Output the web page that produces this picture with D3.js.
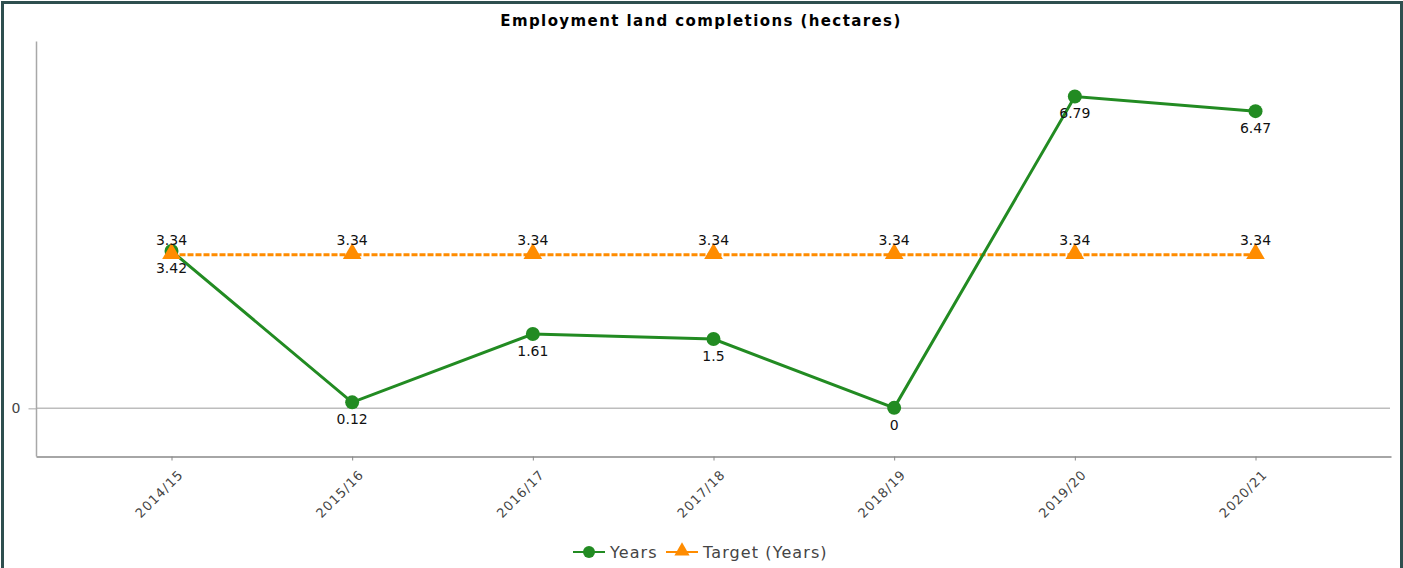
<!DOCTYPE html>
<html>
<head>
<meta charset="utf-8">
<script src="https://cdn.jsdelivr.net/npm/d3@7"></script>
<style>
  body { margin: 0; background: #fff; }
  svg { display: block; }
</style>
</head>
<body>
<svg id="chart" width="1403" height="568"></svg>
<script>
// data
var years = ['2014/15', '2015/16', '2016/17', '2017/18', '2018/19', '2019/20', '2020/21'];
var completions = [3.42, 0.12, 1.61, 1.5, 0, 6.79, 6.47];
var target = [3.34, 3.34, 3.34, 3.34, 3.34, 3.34, 3.34];
var yTicks = [0];

var width = 1403;
var height = 568;

var plotLeft = 36;
var plotRight = 1391;
var plotTop = 41;
var plotBottom = 456;

var green = '#228b22';
var orange = '#ff8c00';
var font = 'DejaVu Sans, Verdana, sans-serif';

var svg = d3.select('#chart');

// outer frame
svg.append('rect')
    .attr('x', 2.5)
    .attr('y', 2.5)
    .attr('width', width - 4)
    .attr('height', height)
    .attr('fill', 'none')
    .attr('stroke', '#2f4f4f')
    .attr('stroke-width', 3);

var x = d3.scalePoint()
    .domain(years)
    .range([plotLeft, plotRight])
    .padding(0.75);

var y = d3.scaleLinear()
    .domain([-1.05, 8.0])
    .range([plotBottom, plotTop]);

// title
svg.append('text')
    .attr('x', 701)
    .attr('y', 26)
    .attr('text-anchor', 'middle')
    .attr('font-family', font)
    .attr('font-weight', 'bold')
    .attr('font-size', 15)
    .attr('letter-spacing', 1.4)
    .attr('fill', '#000')
    .text('Employment land completions (hectares)');

// zero grid line
svg.selectAll('.grid')
    .data(yTicks)
    .enter().append('line')
    .attr('x1', plotLeft)
    .attr('x2', plotRight - 1)
    .attr('y1', function(d) { return y(d) + 0.5; })
    .attr('y2', function(d) { return y(d) + 0.5; })
    .attr('stroke', '#bdbdbd')
    .attr('stroke-width', 1.5);

// y axis
var yAxis = d3.axisLeft(y).tickValues(yTicks).tickSize(8).tickPadding(8);
var gy = svg.append('g')
    .attr('transform', 'translate(' + (plotLeft + 0.5) + ',0.5)')
    .call(yAxis);
gy.attr('font-size', 14);
gy.select('.domain')
    .attr('d', 'M0,' + plotTop + 'V' + plotBottom)
    .attr('stroke', '#a8a8a8')
    .attr('stroke-width', 1.5);
gy.selectAll('.tick line').attr('stroke', '#a8a8a8');
gy.selectAll('.tick text')
    .attr('font-family', font)
    .attr('font-size', 14)
    .attr('fill', '#444');

// x axis
var xAxis = d3.axisBottom(x).tickSize(4).tickSizeOuter(0);
var gx = svg.append('g')
    .attr('transform', 'translate(0,' + (plotBottom + 0.5) + ')')
    .call(xAxis);
gx.select('.domain')
    .attr('stroke', '#888')
    .attr('stroke-width', 1.5);
gx.selectAll('.tick line').attr('stroke', '#888');
gx.selectAll('.tick text')
    .attr('font-family', font)
    .attr('font-size', 13)
    .attr('letter-spacing', 1)
    .attr('fill', '#444')
    .attr('text-anchor', 'end')
    .attr('dy', null)
    .attr('y', 0)
    .attr('transform', 'translate(12,19) rotate(-45)');

// target series (dashed orange)
var targetLine = d3.line()
    .x(function(d, i) { return x(years[i]); })
    .y(function(d) { return y(d); });

svg.append('path')
    .datum(target)
    .attr('d', targetLine)
    .attr('fill', 'none')
    .attr('stroke', orange)
    .attr('stroke-width', 3)
    .attr('stroke-dasharray', '6,2');

// completions series (green)
var compLine = d3.line()
    .x(function(d, i) { return x(years[i]); })
    .y(function(d) { return y(d); });

svg.append('path')
    .datum(completions)
    .attr('d', compLine)
    .attr('fill', 'none')
    .attr('stroke', green)
    .attr('stroke-width', 3);

svg.selectAll('.dot')
    .data(completions)
    .enter().append('circle')
    .attr('cx', function(d, i) { return x(years[i]); })
    .attr('cy', function(d) { return y(d); })
    .attr('r', 7)
    .attr('fill', green);

var tri = d3.symbol().type(d3.symbolTriangle).size(150);
svg.selectAll('.tri')
    .data(target)
    .enter().append('path')
    .attr('d', tri)
    .attr('transform', function(d, i) { return 'translate(' + x(years[i]) + ',' + (y(d) - 1) + ')'; })
    .attr('fill', orange);

// value labels
svg.selectAll('.tlabel')
    .data(target)
    .enter().append('text')
    .attr('x', function(d, i) { return x(years[i]); })
    .attr('y', function(d) { return y(d) - 10; })
    .attr('text-anchor', 'middle')
    .attr('font-family', font)
    .attr('font-size', 14)
    .attr('fill', '#111')
    .text(function(d) { return d; });

svg.selectAll('.clabel')
    .data(completions)
    .enter().append('text')
    .attr('x', function(d, i) { return x(years[i]); })
    .attr('y', function(d) { return y(d) + 22; })
    .attr('text-anchor', 'middle')
    .attr('font-family', font)
    .attr('font-size', 14)
    .attr('fill', '#111')
    .text(function(d) { return d; });

// legend
var legend = svg.append('g').attr('transform', 'translate(573,552)');
var legendItems = [
    { name: 'Years', color: green, shape: 'circle', x: 0 },
    { name: 'Target (Years)', color: orange, shape: 'triangle', x: 93 }
];
legendItems.forEach(function(item) {
    var g = legend.append('g').attr('transform', 'translate(' + item.x + ',0)');
    g.append('line')
        .attr('x1', 0).attr('x2', 32)
        .attr('y1', 0).attr('y2', 0)
        .attr('stroke', item.color)
        .attr('stroke-width', 2);
    if (item.shape === 'circle') {
        g.append('circle').attr('cx', 16).attr('cy', 0).attr('r', 6).attr('fill', item.color);
    } else {
        g.append('path')
            .attr('d', d3.symbol().type(d3.symbolTriangle).size(100))
            .attr('transform', 'translate(16,-1)')
            .attr('fill', item.color);
    }
    g.append('text')
        .attr('x', 37)
        .attr('y', 6)
        .attr('font-family', font)
        .attr('font-size', 16)
        .attr('letter-spacing', 1.1)
        .attr('fill', '#444')
        .text(item.name);
});
</script>
</body>
</html>
